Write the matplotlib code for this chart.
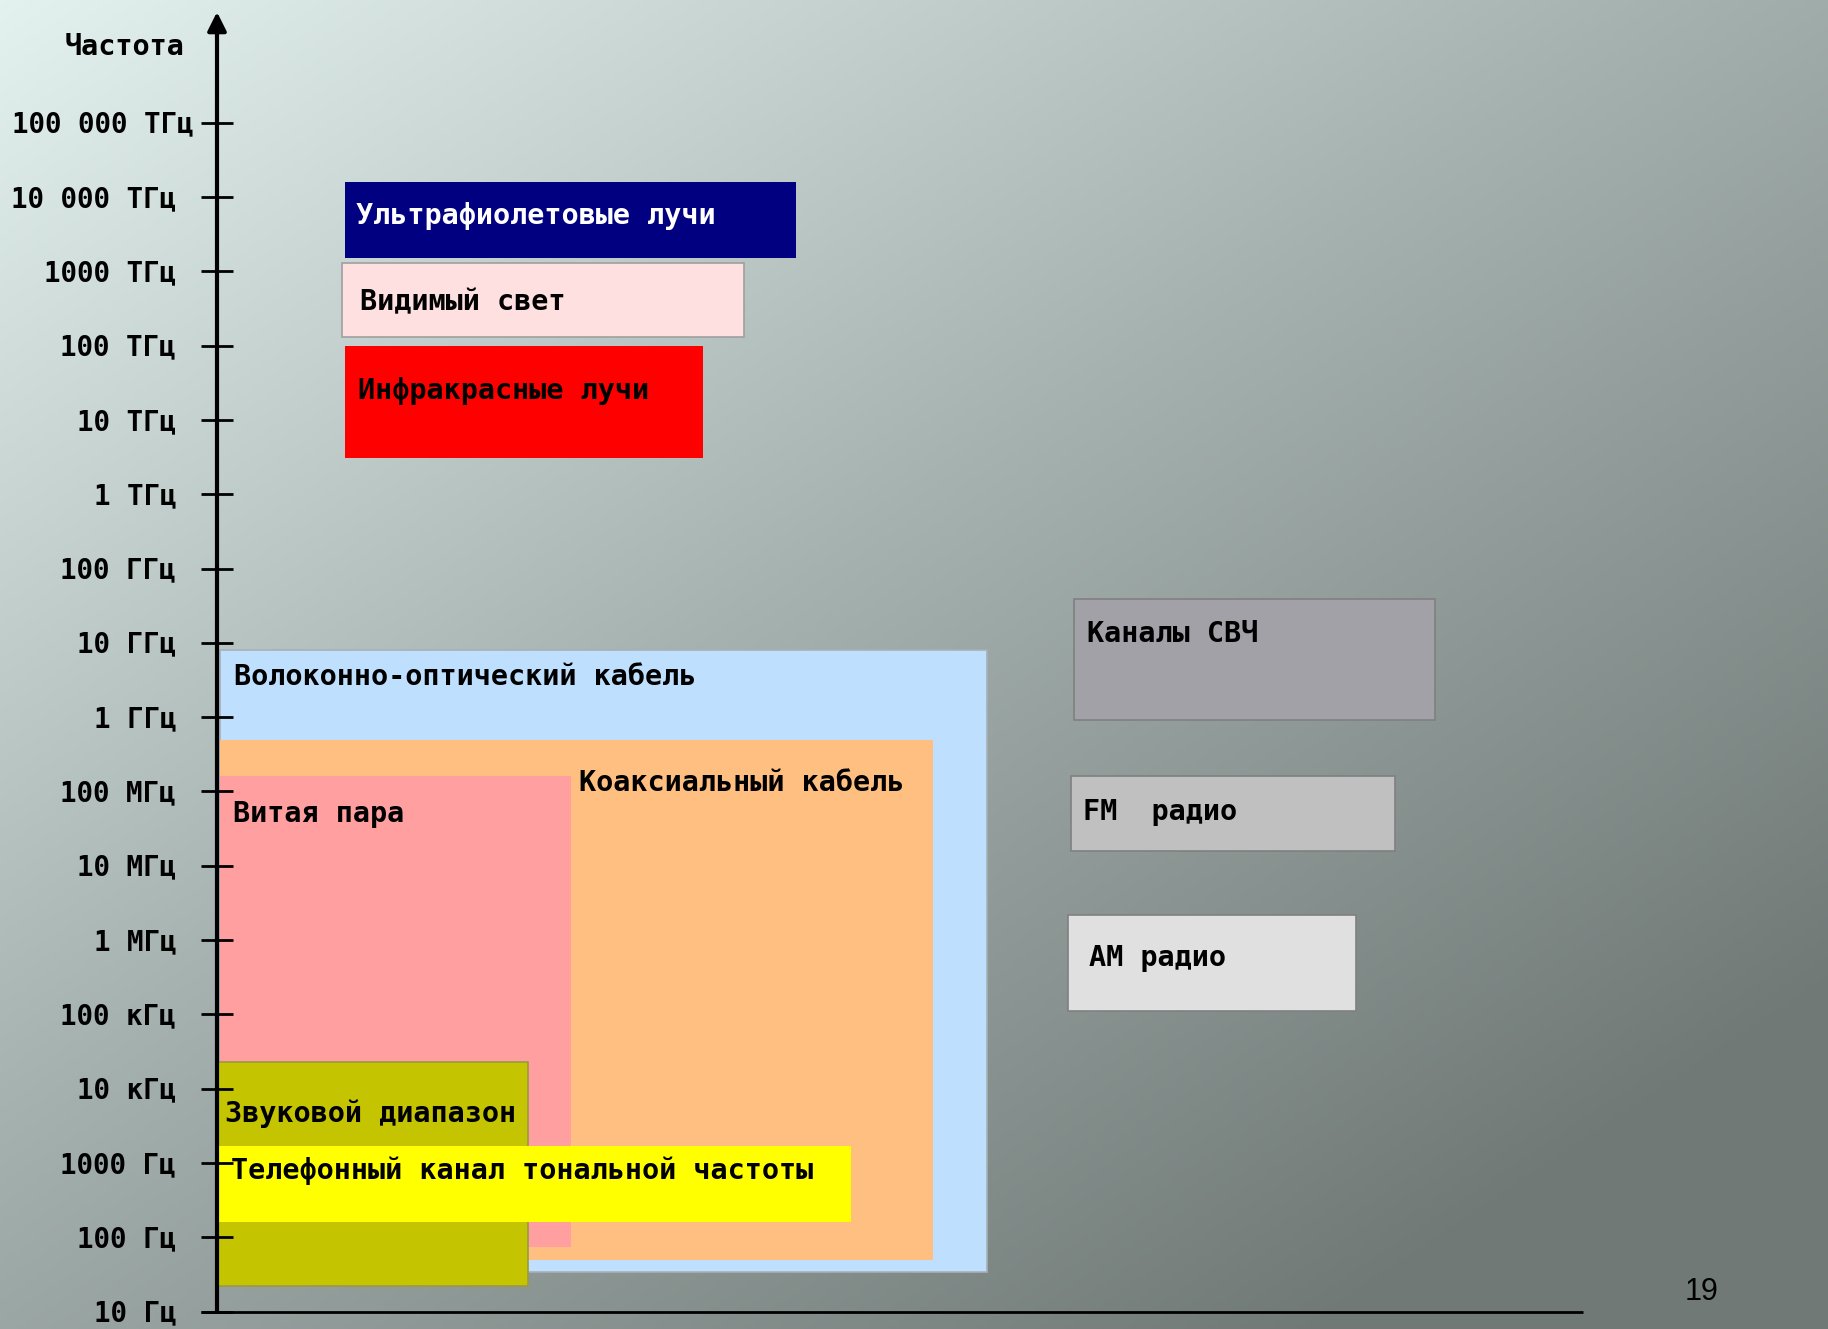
#!/usr/bin/env python3
import matplotlib
matplotlib.use("Agg")
import matplotlib.pyplot as plt
import numpy as np
from matplotlib.patches import Rectangle
from matplotlib.transforms import offset_copy

# -----------------------------------------------------------------------------
# Data
# -----------------------------------------------------------------------------

tick_freqs = [1e17, 1e16, 1e15, 1e14, 1e13, 1e12, 1e11, 1e10, 1e9, 1e8,
              1e7, 1e6, 1e5, 1e4, 1e3, 1e2, 1e1]
tick_labels = ["100 000 ТГц", "10 000 ТГц", "1000 ТГц", "100 ТГц", "10 ТГц",
               "1 ТГц", "100 ГГц", "10 ГГц", "1 ГГц", "100 МГц", "10 МГц",
               "1 МГц", "100 кГц", "10 кГц", "1000 Гц", "100 Гц", "10 Гц"]

band_names = ["Волоконно-оптический кабель", "Коаксиальный кабель",
              "Витая пара", "Звуковой диапазон",
              "Телефонный канал тональной частоты",
              "Ультрафиолетовые лучи", "Видимый свет", "Инфракрасные лучи",
              "Каналы СВЧ", "FM  радио", "AM радио"]
band_low = [34, 49, 74, 22, 160, 1.5e15, 1.3e14, 3.1e12, 9.1e8, 1.6e7, 1.1e5]
band_high = [8e9, 4.9e8, 1.6e8, 2.3e4, 1700, 1.6e16, 1.3e15, 1.0e14, 3.9e10,
             1.6e8, 2.2e6]

# layout (pixels): box left / right, label offset from the box's top-left
box_left = [220, 220, 220, 217, 217, 345, 342, 345, 1074, 1071, 1068]
box_right = [987, 933, 571, 528, 851, 796, 744, 703, 1435, 1395, 1356]
label_dx = [14, 359, 13, 8, 14, 11, 18, 13, 13, 12, 21]
label_dy = [25, 41, 36, 50, 23, 32, 37, 43, 33, 34, 41]
face = ["#bfdfff", "#ffbf80", "#ff9f9f", "#c4c400", "#ffff00", "#000080",
        "#ffe0e0", "#ff0000", "#a2a1a8", "#c0c0c0", "#e0e0e0"]
edge = ["#a8b0b8", "none", "none", "#9a9a40", "none", "none", "#a0a0a0",
        "none", "#808080", "#808080", "#808080"]
text_col = ["black"] * 5 + ["white"] + ["black"] * 5

# -----------------------------------------------------------------------------
# Plot
# -----------------------------------------------------------------------------

W, H = 1828, 1329
px_per_dec = 74.3
base_row = 1311.5          # row of 10 Hz
fs = 20.5
fs_tick = 19.8
mono = "DejaVu Sans Mono"

fig = plt.figure(figsize=(W / 100, H / 100), dpi=100)
ax = fig.add_axes([0, 0, 1, 1])
ax.set_xlim(0, W)
ax.set_yscale("log")
ax.set_ylim(10 ** (1 - (H - base_row) / px_per_dec),
            10 ** (1 + base_row / px_per_dec))
ax.axis("off")

# background gradient
gx, gy = np.meshgrid(np.linspace(0, 1, 400), np.linspace(0, 1, 300))
t = np.clip(0.55 * gx + 0.6 * gy, 0, 1)
c0 = np.array([228, 242, 239]) / 255
c1 = np.array([166, 178, 176]) / 255
c2 = np.array([112, 121, 118]) / 255
tt = t[..., None]
img = np.where(tt < 0.5, c0 + (c1 - c0) * tt * 2, c1 + (c2 - c1) * (tt - 0.5) * 2)
ax.imshow(img, extent=[0, 1, 0, 1], transform=ax.transAxes, aspect="auto",
          origin="upper", zorder=0)

for i, name in enumerate(band_names):
    ax.add_patch(Rectangle((box_left[i], band_low[i]),
                           box_right[i] - box_left[i],
                           band_high[i] - band_low[i],
                           facecolor=face[i], edgecolor=edge[i], lw=1.2,
                           zorder=2 + i * 0.01))
    tr = offset_copy(ax.transData, fig=fig, x=0, y=-(label_dy[i] + 10),
                     units="dots")
    ax.text(box_left[i] + label_dx[i], band_high[i], name, transform=tr,
            family=mono, fontsize=fs, fontweight="bold", color=text_col[i],
            va="baseline", ha="left", zorder=3)

# axis
ax.hlines(tick_freqs, 201, 233, color="black", lw=2, zorder=4)
ax.hlines(10, 201, 1583, color="black", lw=2, zorder=4)
ax.annotate("", xy=(217, 10 ** (1 + (base_row - 12) / px_per_dec)),
            xytext=(217, 10),
            arrowprops=dict(arrowstyle="-|>", lw=3, color="black",
                            mutation_scale=28, shrinkA=0, shrinkB=0),
            zorder=5)

tr = offset_copy(ax.transData, fig=fig, x=0, y=-10, units="dots")
for f, lab in zip(tick_freqs, tick_labels):
    if lab == tick_labels[0]:
        ax.text(12, f, lab, transform=tr, family=mono, fontsize=fs_tick,
                fontweight="bold", ha="left", va="baseline", zorder=5)
    else:
        ax.text(176, f, lab, transform=tr, family=mono, fontsize=fs_tick,
                fontweight="bold", ha="right", va="baseline", zorder=5)

ax.text(184, 10 ** (1 + (base_row - 45) / px_per_dec), "Частота",
        transform=tr, family=mono, fontsize=fs, fontweight="bold",
        ha="right", va="baseline", zorder=5)

ax.text(1702, 10 ** (1 + (base_row - 1292) / px_per_dec), "19",
        family="Liberation Sans", fontsize=22, ha="center", va="center",
        zorder=5)

fig.savefig("out.png", dpi=100)
